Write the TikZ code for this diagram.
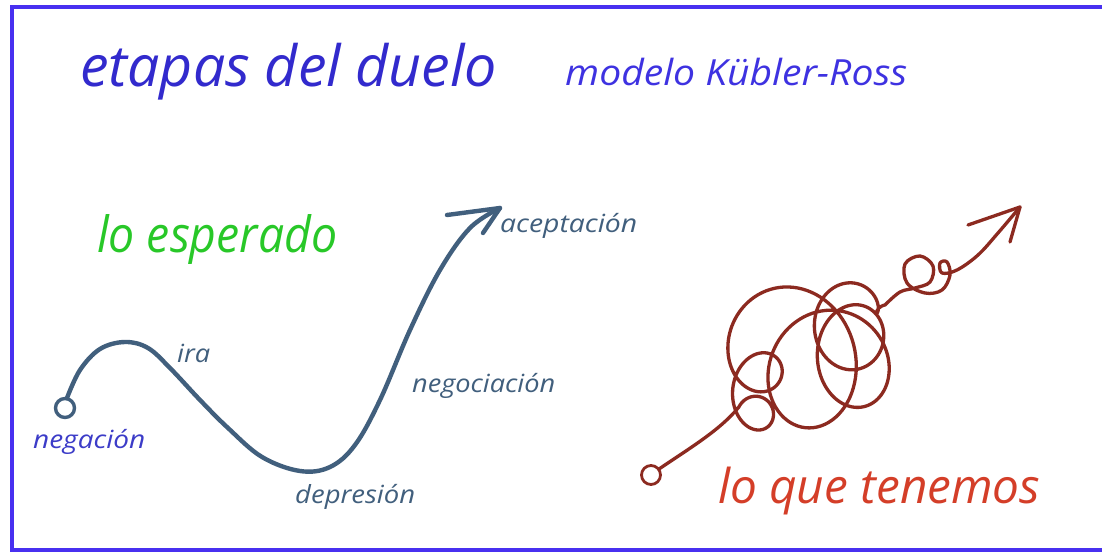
\documentclass[tikz,border=0pt]{standalone}
\usepackage{fontspec}
\usepackage{graphicx}
\setmainfont{Open Sans}
\definecolor{frameblue}{RGB}{72,48,240}
\definecolor{titleblue}{RGB}{50,42,205}
\definecolor{subblue}{RGB}{62,50,225}
\definecolor{hopegreen}{RGB}{40,200,40}
\definecolor{realred}{RGB}{212,62,40}
\definecolor{knotred}{RGB}{140,42,32}
\definecolor{slate}{RGB}{65,95,125}
\definecolor{negblue}{RGB}{60,60,200}
\newcommand\fitto[2]{\resizebox{#1pt}{\height}{#2}}
\tikzset{
  lbl/.style={anchor=base west, inner sep=0pt, font=\itshape},
  pathline/.style={draw=slate, line width=4.4pt, line cap=round, line join=round},
  knotline/.style={draw=knotred, line width=3.3pt, line cap=round, line join=round},
}
\begin{document}
\begin{tikzpicture}[x=1pt,y=-1pt]
\useasboundingbox (0,0) rectangle (1102,553);
\fill[white] (0,0) rectangle (1102,553);
\draw[frameblue, line width=4pt] (12,7) rectangle (1110,550);

% titles
\node[lbl, text=titleblue] (title) at (80,87) {\fitto{417}{\fontsize{57}{60}\selectfont etapas del duelo}};
\node[lbl, text=subblue] (sub) at (565,86) {\fitto{342}{\fontsize{36}{40}\selectfont modelo Kübler-Ross}};
\node[lbl, text=hopegreen] (hope) at (97,253) {\fitto{240}{\fontsize{50}{54}\selectfont lo esperado}};
\node[lbl, text=realred] (real) at (718,503) {\fitto{322}{\fontsize{48}{52}\selectfont lo que tenemos}};

% stage labels
\node[lbl, text=negblue] (neg) at (33,448) {\fitto{112}{\fontsize{25}{28}\selectfont negación}};
\node[lbl, text=slate] (ira) at (177,362) {\fitto{33}{\fontsize{25}{28}\selectfont ira}};
\node[lbl, text=slate] (dep) at (295,503) {\fitto{120}{\fontsize{25}{28}\selectfont depresión}};
\node[lbl, text=slate] (nego) at (412,392) {\fitto{143}{\fontsize{25}{28}\selectfont negociación}};
\node[lbl, text=slate] (acep) at (500,233) {\fitto{137}{\fontsize{25}{28}\selectfont aceptación}};

% expected path
\draw[pathline, line width=3.4pt] (65,408) circle (9.5);
\coordinate (tipA) at (500,208);
\draw[pathline] plot[smooth, tension=0.6] coordinates {(67,398) (80,370) (100,349) (125,342) (148,348) (170,368) (200,400) (228,428) (262,457) (300,471) (330,467) (355,445) (380,400) (410,330) (440,270) (470,228) (500,208)};
\draw[pathline] (447,215) -- (tipA) -- (483,233);

% tangled path
\draw[knotline, line width=2.8pt] (651,475) circle (9.5);
\coordinate (tipB) at (1020,207);
\draw[knotline] (659,469) .. controls (690,448) and (720,430) .. (738,408)
  -- plot[domain=0:1, samples=500, variable=\t]
   ({738+147*\t + 50*sin(180*\t)*(1+0.3*sin(1000*\t))*cos(2160*\t+180) + 28*sin(180*\t)*cos(620*\t)},
    {408-103*\t + 58*sin(180*\t)*(1+0.3*sin(1000*\t))*sin(2160*\t+180) + 28*sin(180*\t)*sin(620*\t+60)})
  -- plot[smooth, tension=0.6] coordinates {(885,305) (900,292) (915,288) (930,282) (933,266) (920,256) (905,264) (907,283) (925,293) (942,290) (950,275) (947,262) (940,263) (942,273) (957,270) (978,255) (998,233) (1020,207)};
\draw[knotline] (968,225) -- (tipB) -- (1010,242);
\end{tikzpicture}
\end{document}
